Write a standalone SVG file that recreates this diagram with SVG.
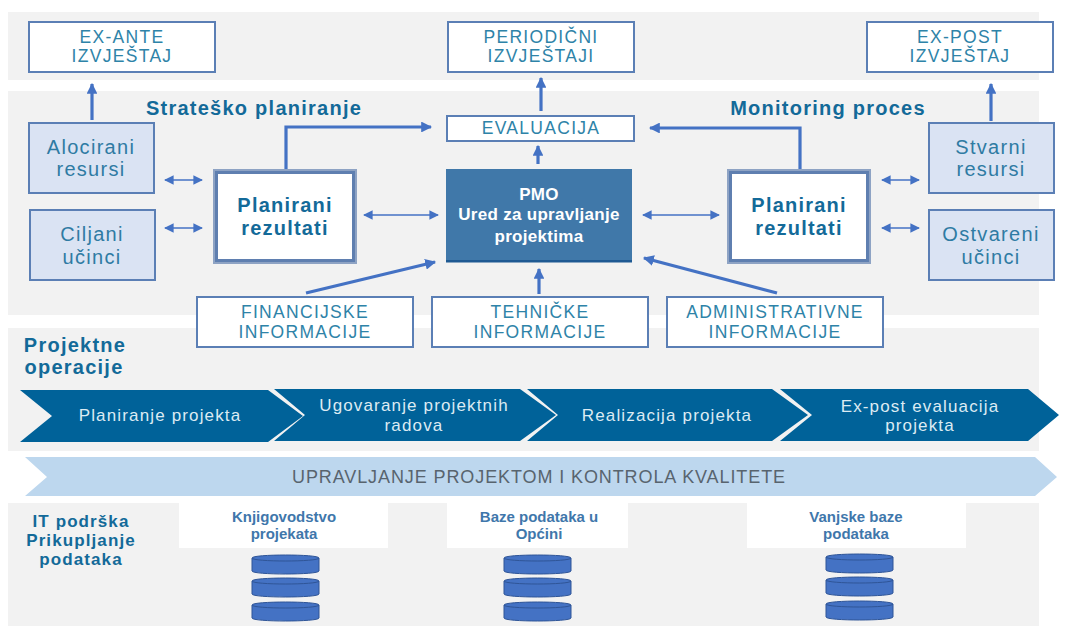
<svg xmlns="http://www.w3.org/2000/svg" width="1067" height="626" viewBox="0 0 1067 626">
<defs>
<marker id="ah" viewBox="0 0 10 10" refX="9" refY="5" markerWidth="3.4" markerHeight="3.4" orient="auto-start-reverse" markerUnits="strokeWidth"><path d="M0 0L10 5L0 10z" fill="#4472c4"/></marker>
<marker id="as" viewBox="0 0 10 10" refX="9" refY="5" markerWidth="6" markerHeight="6" orient="auto-start-reverse" markerUnits="strokeWidth"><path d="M0 0L10 5L0 10z" fill="#4472c4"/></marker>
<g id="cyl"><path d="M0 5C0 1 67 1 67 5V18C67 22 0 22 0 18Z" fill="#4472c4" stroke="#2f5597"/><path d="M0 5C0 9 67 9 67 5" fill="none" stroke="#2f5597"/></g>
</defs>
<style>
text{font-family:"Liberation Sans",Arial,sans-serif;text-anchor:middle}
.band{fill:#f2f2f2}
.wb{fill:#fff;stroke:#5b7fb5;stroke-width:2}
.lb{fill:#dae3f3;stroke:#5b7fb5;stroke-width:2}
.t{font-size:17.5px;letter-spacing:1.3px;fill:#2e83a8}
.tl{font-size:20px;letter-spacing:1.3px;fill:#2f7ba3}
.h{font-size:20px;letter-spacing:1.25px;font-weight:bold;fill:#136a99}
.b{font-size:20px;letter-spacing:1.2px;font-weight:bold;fill:#136a99}
.s{font-size:15px;font-weight:bold;fill:#3f77ab}
.w{font-size:17px;letter-spacing:.3px;font-weight:bold;fill:#fff}
.c{font-size:17px;letter-spacing:1.15px;fill:#dcebf3}
.i{font-size:17px;letter-spacing:1.1px;font-weight:bold;fill:#136a99}
.c1{stroke:#4472c4;stroke-width:3.2;fill:none}
.c2{stroke:#4472c4;stroke-width:1.6;fill:none}
</style>
<rect class="band" x="8" y="12" width="1031" height="68"/>
<rect class="band" x="8" y="91" width="1031" height="224"/>
<rect class="band" x="8" y="328" width="1031" height="123"/>
<rect class="band" x="8" y="503" width="1031" height="123"/>

<g id="connectors">
<path class="c1" d="M92 120V84" marker-end="url(#ah)"/>
<path class="c1" d="M541 111V78" marker-end="url(#ah)"/>
<path class="c1" d="M991 121V84" marker-end="url(#ah)"/>
<path class="c1" d="M286 170V127H431" marker-end="url(#ah)"/>
<path class="c1" d="M800 170V128H650" marker-end="url(#ah)"/>
<path class="c1" d="M538 164V146" marker-end="url(#ah)"/>
<path class="c2" d="M165 180H202" marker-start="url(#as)" marker-end="url(#as)"/>
<path class="c2" d="M165 228H202" marker-start="url(#as)" marker-end="url(#as)"/>
<path class="c2" d="M882 180H919" marker-start="url(#as)" marker-end="url(#as)"/>
<path class="c2" d="M882 228H919" marker-start="url(#as)" marker-end="url(#as)"/>
<path class="c2" d="M364 215H438" marker-start="url(#as)" marker-end="url(#as)"/>
<path class="c2" d="M643 215H719" marker-start="url(#as)" marker-end="url(#as)"/>
<path class="c1" d="M306 293L435 262" marker-end="url(#ah)"/>
<path class="c1" d="M539 294V269" marker-end="url(#ah)"/>
<path class="c1" d="M777 293L644 258" marker-end="url(#ah)"/>
</g>

<g id="exante"><rect class="wb" x="29" y="22" width="186" height="50"/><text class="t" x="122" y="43">EX-ANTE</text><text class="t" x="122" y="62">IZVJEŠTAJ</text></g>
<g id="periodicni"><rect class="wb" x="448" y="22" width="186" height="50"/><text class="t" x="541" y="43">PERIODIČNI</text><text class="t" x="541" y="62">IZVJEŠTAJI</text></g>
<g id="expost"><rect class="wb" x="867" y="22" width="186" height="50"/><text class="t" x="960" y="43">EX-POST</text><text class="t" x="960" y="62">IZVJEŠTAJ</text></g>

<text class="h" x="254" y="115">Strateško planiranje</text>
<text class="h" x="828" y="115">Monitoring proces</text>

<g id="alocirani"><rect class="lb" x="29" y="123" width="125" height="70"/><text class="tl" x="91" y="154">Alocirani</text><text class="tl" x="91" y="176">resursi</text></g>
<g id="ciljani"><rect class="lb" x="30" y="210" width="125" height="70"/><text class="tl" x="92" y="241">Ciljani</text><text class="tl" x="92" y="264">učinci</text></g>
<g id="stvarni"><rect class="lb" x="929" y="123" width="125" height="70"/><text class="tl" x="991" y="154">Stvarni</text><text class="tl" x="991" y="176">resursi</text></g>
<g id="ostvareni"><rect class="lb" x="929" y="210" width="125" height="70"/><text class="tl" x="991" y="241">Ostvareni</text><text class="tl" x="991" y="264">učinci</text></g>

<g id="planirani1"><rect x="213" y="169" width="144" height="95" fill="#8ea3c4"/><rect x="215" y="171" width="140" height="91" fill="#5f7fb0"/><rect x="218" y="174" width="134" height="85" fill="#fff"/><text class="b" x="285" y="212">Planirani</text><text class="b" x="285" y="235">rezultati</text></g>
<g id="planirani2"><rect x="727" y="169" width="144" height="95" fill="#8ea3c4"/><rect x="729" y="171" width="140" height="91" fill="#5f7fb0"/><rect x="732" y="174" width="134" height="85" fill="#fff"/><text class="b" x="799" y="212">Planirani</text><text class="b" x="799" y="235">rezultati</text></g>

<g id="evaluacija"><rect class="wb" x="447" y="116" width="187" height="25"/><text class="t" x="541" y="134">EVALUACIJA</text></g>
<g id="pmo"><rect x="446" y="169" width="186" height="93" fill="#4078a9"/><rect x="446" y="260" width="186" height="2.5" fill="#1f5a93"/><text class="w" x="539" y="200">PMO</text><text class="w" x="539" y="220">Ured za upravljanje</text><text class="w" x="539" y="242">projektima</text></g>

<g id="financijske"><rect class="wb" x="197" y="297" width="216" height="50"/><text class="t" x="305" y="318">FINANCIJSKE</text><text class="t" x="305" y="338">INFORMACIJE</text></g>
<g id="tehnicke"><rect class="wb" x="432" y="297" width="216" height="50"/><text class="t" x="540" y="318">TEHNIČKE</text><text class="t" x="540" y="338">INFORMACIJE</text></g>
<g id="administrativne"><rect class="wb" x="667" y="297" width="216" height="50"/><text class="t" x="775" y="318">ADMINISTRATIVNE</text><text class="t" x="775" y="338">INFORMACIJE</text></g>

<text class="h" x="75" y="352">Projektne</text>
<text class="h" x="74" y="374">operacije</text>

<g id="planiranje"><path d="M20 390H268L303 416L268 442H20L52 416Z" fill="#006299"/><text class="c" x="160" y="421">Planiranje projekta</text></g>
<g id="ugovaranje"><path d="M274 389H520L556 415L520 441H274L305 415Z" fill="#006299"/><text class="c" x="414" y="411">Ugovaranje projektnih</text><text class="c" x="414" y="431">radova</text></g>
<g id="realizacija"><path d="M527 389H772L808 415L772 441H527L558 415Z" fill="#006299"/><text class="c" x="667" y="421">Realizacija projekta</text></g>
<g id="expost-eval"><path d="M780 389H1028L1059 415L1028 441H780L812 415Z" fill="#006299"/><text class="c" x="920" y="412">Ex-post evaluacija</text><text class="c" x="920" y="431">projekta</text></g>

<g id="upravljanje"><path d="M25 457H1035L1057 477L1035 496H25L47 477Z" fill="#bdd7ee"/><text x="539" y="483" font-size="18" letter-spacing=".9" fill="#58646e">UPRAVLJANJE PROJEKTOM I KONTROLA KVALITETE</text></g>

<g id="it"><text class="i" x="81" y="527">IT podrška</text><text class="i" x="81" y="546">Prikupljanje</text><text class="i" x="81" y="565">podataka</text></g>

<g id="knjigovodstvo"><rect x="179" y="503" width="209" height="45" fill="#fff"/><text class="s" x="284" y="522">Knjigovodstvo</text><text class="s" x="284" y="539">projekata</text><use href="#cyl" x="252" y="553"/><use href="#cyl" x="252" y="576"/><use href="#cyl" x="252" y="600"/></g>
<g id="baze"><rect x="447" y="503" width="181" height="45" fill="#fff"/><text class="s" x="539" y="522">Baze podataka u</text><text class="s" x="539" y="539">Općini</text><use href="#cyl" x="504" y="553"/><use href="#cyl" x="504" y="576"/><use href="#cyl" x="504" y="600"/></g>
<g id="vanjske"><rect x="747" y="503" width="219" height="45" fill="#fff"/><text class="s" x="856" y="522">Vanjske baze</text><text class="s" x="856" y="539">podataka</text><use href="#cyl" x="826" y="552"/><use href="#cyl" x="826" y="575"/><use href="#cyl" x="826" y="599"/></g>
</svg>
